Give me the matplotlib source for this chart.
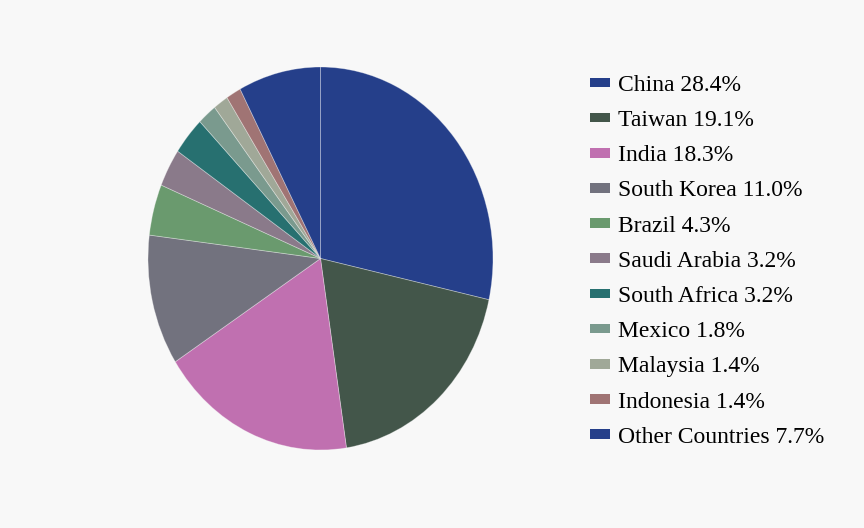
import matplotlib
matplotlib.use("Agg")
import matplotlib.pyplot as plt
from matplotlib.patches import Patch

countries = ["China", "Taiwan", "India", "South Korea", "Brazil", "Saudi Arabia",
             "South Africa", "Mexico", "Malaysia", "Indonesia", "Other Countries"]
shares = [28.4, 19.1, 18.3, 11.0, 4.3, 3.2, 3.2, 1.8, 1.4, 1.4, 7.7]
colors = ["#253f8a", "#43564a", "#c070b0", "#72727e", "#6a9a6e", "#8a7a8a",
          "#277070", "#7a9a8e", "#a0a898", "#a07474", "#253f8a"]
labels = [f"{c} {v:.1f}%" for c, v in zip(countries, shares)]

W, H = 864, 528
bg = "#f8f8f8"
fig = plt.figure(figsize=(W / 100, H / 100), dpi=100, facecolor=bg)
ax = fig.add_axes([148 / W, (H - 450) / H, 345 / W, 383 / H])
ax.set_facecolor(bg)
ax.pie(shares, colors=colors, startangle=90, counterclock=False,
       wedgeprops=dict(edgecolor=(1, 1, 1, 0.35), linewidth=0.6))
ax.set_aspect("auto")
ax.set_xlim(-1, 1)
ax.set_ylim(-1, 1)
ax.axis("off")

handles = [Patch(facecolor=c, edgecolor="none") for c in colors]
fs = 17
fig.legend(handles, labels, loc="upper left",
           bbox_to_anchor=(590 / W, 1 - 75 / H), frameon=False,
           prop=dict(family="Liberation Serif", size=fs),
           handlelength=0.84, handleheight=0.25, handletextpad=0.35,
           labelspacing=0.60, borderpad=0, borderaxespad=0)

fig.savefig("out.png", dpi=100, facecolor=bg)
